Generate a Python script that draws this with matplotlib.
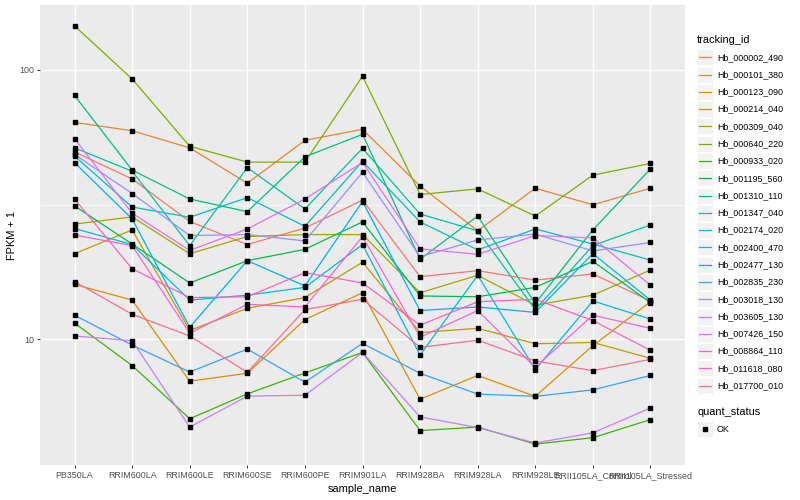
import numpy as np
import matplotlib
matplotlib.use('Agg')
import matplotlib.pyplot as plt
from matplotlib.patches import Rectangle
from matplotlib.lines import Line2D
from matplotlib.ticker import FixedLocator, NullFormatter

plt.rcParams['font.family'] = ['Liberation Sans', 'DejaVu Sans']

samples = ['PB350LA', 'RRIM600LA', 'RRIM600LE', 'RRIM600SE', 'RRIM600PE', 'RRIM901LA',
           'RRIM928BA', 'RRIM928LA', 'RRIM928LE', 'RRII105LA_Control', 'RRII105LA_Stressed']

trackingIds = ['Hb_000002_490', 'Hb_000101_380', 'Hb_000123_090', 'Hb_000214_040',
               'Hb_000309_040', 'Hb_000640_220', 'Hb_000933_020', 'Hb_001195_560',
               'Hb_001310_110', 'Hb_001347_040', 'Hb_002174_020', 'Hb_002400_470',
               'Hb_002477_130', 'Hb_002835_230', 'Hb_003018_130', 'Hb_003605_130',
               'Hb_007426_150', 'Hb_008864_110', 'Hb_011618_080', 'Hb_017700_010']

# FPKM + 1 per sample, one list per gene
hb_000002_490 = [49.7, 39.4, 27.4, 22.5, 25.9, 32.9, 17.1, 18.0, 16.6, 17.5, 13.9]
hb_000101_380 = [63.9, 59.5, 51.4, 38.0, 54.8, 60.2, 37.1, 25.3, 36.4, 31.6, 36.4]
hb_000123_090 = [16.0, 14.0, 7.0, 7.49, 11.85, 14.9, 6.0, 7.35, 6.15, 9.48, 13.8]
hb_000214_040 = [20.8, 25.5, 10.8, 13.05, 14.3, 19.35, 10.6, 11.0, 9.64, 9.75, 8.51]
hb_000309_040 = [26.8, 28.5, 20.8, 24.1, 24.5, 24.5, 14.9, 17.3, 13.4, 14.6, 18.1]
hb_000640_220 = [145.7, 92.6, 52.1, 45.5, 45.5, 94.8, 34.5, 36.2, 28.7, 40.7, 45.0]
hb_000933_020 = [11.5, 8.0, 5.08, 6.28, 7.51, 8.95, 4.59, 4.73, 4.09, 4.32, 5.04]
hb_001195_560 = [31.3, 22.6, 16.2, 19.6, 21.6, 27.3, 14.5, 14.4, 15.6, 19.5, 13.7]
hb_001310_110 = [80.4, 42.5, 33.2, 29.8, 47.6, 57.7, 19.85, 28.7, 13.6, 25.5, 42.9]
hb_001347_040 = [51.4, 42.1, 22.3, 43.4, 30.5, 51.2, 29.2, 25.3, 12.9, 22.3, 26.6]
hb_002174_020 = [47.9, 31.0, 28.4, 33.6, 26.3, 45.8, 27.3, 21.5, 25.7, 22.6, 19.7]
hb_002400_470 = [25.8, 22.5, 14.0, 14.6, 15.6, 22.5, 8.75, 17.3, 7.73, 13.9, 11.9]
hb_002477_130 = [45.3, 28.0, 11.1, 19.6, 15.8, 32.5, 12.8, 13.2, 12.6, 20.8, 14.0]
hb_002835_230 = [12.3, 9.53, 7.57, 9.21, 6.94, 9.67, 7.49, 6.27, 6.15, 6.50, 7.35]
hb_003018_130 = [48.6, 34.8, 24.3, 24.5, 23.2, 41.7, 20.3, 23.4, 24.6, 21.3, 22.9]
hb_003605_130 = [10.3, 9.89, 4.73, 6.16, 6.21, 8.95, 5.16, 4.71, 4.13, 4.50, 5.57]
hb_007426_150 = [55.6, 29.4, 21.4, 25.7, 33.2, 45.4, 21.7, 20.7, 24.3, 23.8, 15.9]
hb_008864_110 = [24.4, 22.3, 10.55, 13.5, 13.2, 24.1, 10.2, 12.8, 7.88, 12.3, 11.0]
hb_011618_080 = [33.2, 18.3, 14.3, 14.4, 17.7, 16.2, 11.3, 13.8, 14.1, 11.75, 9.11]
hb_017700_010 = [16.4, 12.4, 10.3, 7.55, 12.9, 14.1, 9.34, 9.94, 8.32, 7.66, 8.44]

fpkm = [hb_000002_490, hb_000101_380, hb_000123_090, hb_000214_040, hb_000309_040,
        hb_000640_220, hb_000933_020, hb_001195_560, hb_001310_110, hb_001347_040,
        hb_002174_020, hb_002400_470, hb_002477_130, hb_002835_230, hb_003018_130,
        hb_003605_130, hb_007426_150, hb_008864_110, hb_011618_080, hb_017700_010]

# ggplot hue palette, 20 levels
colors = ['#F8766D', '#EA8331', '#D89000', '#C09B00', '#A3A500', '#7CAE00', '#39B600',
          '#00BB4E', '#00BF7D', '#00C1A3', '#00BFC4', '#00BAE0', '#00B0F6', '#35A2FF',
          '#9590FF', '#C77CFF', '#E76BF3', '#FA62DB', '#FF62BC', '#FF6C91']

W, H = 800, 500
fig = plt.figure(figsize=(W / 100, H / 100), dpi=100)
fig.patch.set_facecolor('white')

# panel in pixels: left 40, right 685, top 5, bottom 465
ax = fig.add_axes([40 / W, 1 - 465 / H, 645 / W, 460 / H])
ax.set_facecolor('#EBEBEB')

x = np.arange(len(samples))
for vals, col in zip(fpkm, colors):
    ax.plot(x, vals, color=col, lw=0.9, zorder=2)
for vals in fpkm:
    ax.plot(x, vals, linestyle='none', marker='s', ms=2.6, color='black', zorder=3)

ax.set_yscale('log')
allv = np.log10(np.concatenate([np.array(v) for v in fpkm]))
lo, hi = allv.min(), allv.max()
pad = 0.05 * (hi - lo)
ax.set_ylim(10 ** (lo - pad), 10 ** (hi + pad))
ax.set_xlim(-0.6, len(samples) - 0.4)

ax.yaxis.set_major_locator(FixedLocator([10, 100]))
ax.set_yticklabels(['10', '100'])
ax.yaxis.set_minor_locator(FixedLocator([10 ** 1.5]))
ax.yaxis.set_minor_formatter(NullFormatter())
ax.set_xticks(x)
ax.set_xticklabels(samples)

ax.grid(True, which='major', color='white', lw=1.0)
ax.grid(True, which='minor', axis='y', color='white', lw=0.5)
ax.set_axisbelow(True)
for s in ax.spines.values():
    s.set_visible(False)
ax.tick_params(axis='both', which='major', length=2.2, width=0.7, color='#333333',
               labelsize=6.4, labelcolor='#4D4D4D', pad=2)
ax.tick_params(axis='y', which='minor', length=0)


def fx(px):
    return px / W


def fy(py):
    return 1 - py / H


fig.text(fx(362), fy(489), 'sample_name', fontsize=7.9, ha='center', va='center')
fig.text(fx(12), fy(235), 'FPKM + 1', fontsize=7.9, ha='center', va='center', rotation=90)

# legend: tracking_id
fig.text(fx(697), fy(40), 'tracking_id', fontsize=7.9, ha='left', va='center')
step = 17.28
for i, (name, col) in enumerate(zip(trackingIds, colors)):
    cy = 57.3 + i * step
    fig.add_artist(Rectangle((fx(697), fy(cy + 8)), 16 / W, 16 / H,
                             transform=fig.transFigure, facecolor='#F2F2F2',
                             edgecolor='white', lw=0.5))
    fig.add_artist(Line2D([fx(699), fx(711)], [fy(cy), fy(cy)], transform=fig.transFigure,
                          color=col, lw=0.9))
    fig.text(fx(717), fy(cy), name, fontsize=6.4, ha='left', va='center')

# legend: quant_status
fig.text(fx(697), fy(412), 'quant_status', fontsize=7.9, ha='left', va='center')
fig.add_artist(Rectangle((fx(697), fy(437)), 16 / W, 16 / H, transform=fig.transFigure,
                         facecolor='#F2F2F2', edgecolor='white', lw=0.5))
fig.add_artist(Line2D([fx(705)], [fy(429)], transform=fig.transFigure, marker='s',
                      ms=2.6, color='black', linestyle='none'))
fig.text(fx(717), fy(429), 'OK', fontsize=6.4, ha='left', va='center')

fig.savefig('out.png', dpi=100)
